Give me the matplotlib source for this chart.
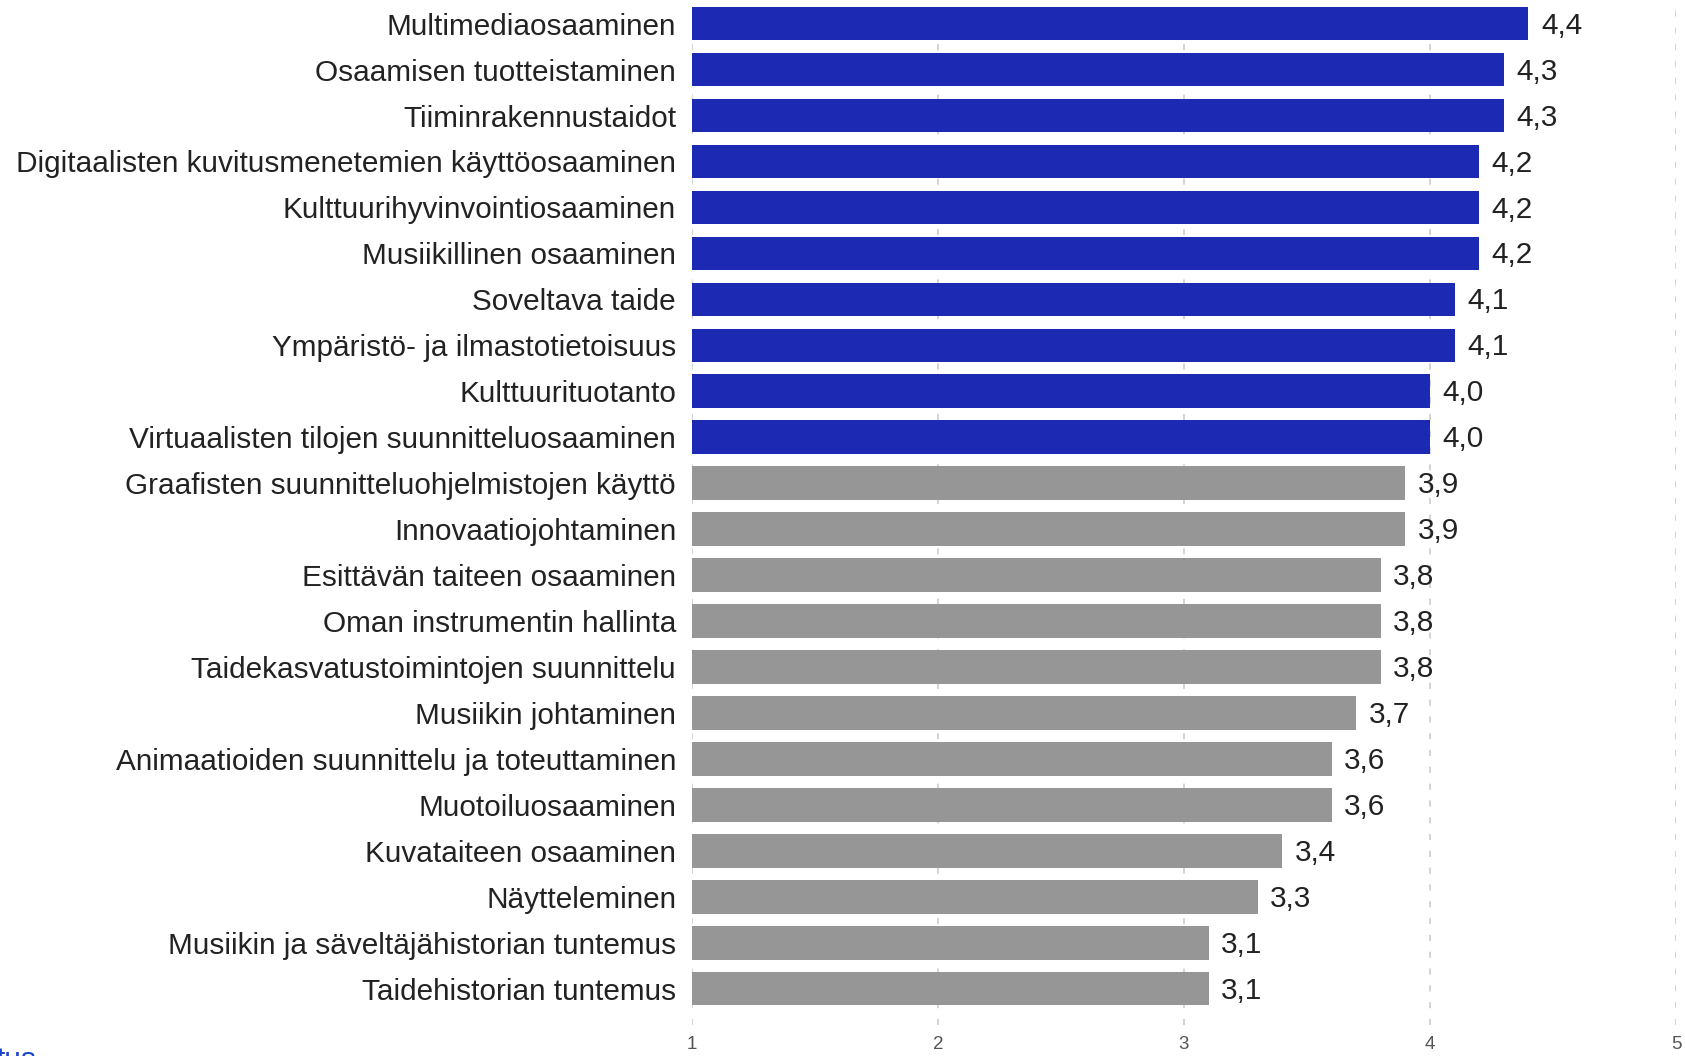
import numpy as np
import matplotlib.pyplot as plt

plt.rcParams['font.family'] = ['Liberation Sans', 'DejaVu Sans']

labels = [
    'Multimediaosaaminen',
    'Osaamisen tuotteistaminen',
    'Tiiminrakennustaidot',
    'Digitaalisten kuvitusmenetemien käyttöosaaminen',
    'Kulttuurihyvinvointiosaaminen',
    'Musiikillinen osaaminen',
    'Soveltava taide',
    'Ympäristö- ja ilmastotietoisuus',
    'Kulttuurituotanto',
    'Virtuaalisten tilojen suunnitteluosaaminen',
    'Graafisten suunnitteluohjelmistojen käyttö',
    'Innovaatiojohtaminen',
    'Esittävän taiteen osaaminen',
    'Oman instrumentin hallinta',
    'Taidekasvatustoimintojen suunnittelu',
    'Musiikin johtaminen',
    'Animaatioiden suunnittelu ja toteuttaminen',
    'Muotoiluosaaminen',
    'Kuvataiteen osaaminen',
    'Näytteleminen',
    'Musiikin ja säveltäjähistorian tuntemus',
    'Taidehistorian tuntemus',
]
values = [4.4, 4.3, 4.3, 4.2, 4.2, 4.2, 4.1, 4.1, 4.0, 4.0,
          3.9, 3.9, 3.8, 3.8, 3.8, 3.7, 3.6, 3.6, 3.4, 3.3, 3.1, 3.1]
n_top = 10  # top ten drawn in blue
x_ticks = [1, 2, 3, 4, 5]

BLUE = '#1c29b3'
GREY = '#969696'
TEXT = '#222222'
FS = 21.4

fig = plt.figure(figsize=(16.85, 10.56), dpi=100)
ax = fig.add_axes([692 / 1685, 1 - 1025 / 1056, (1676 - 692) / 1685, 1025 / 1056])

y = np.arange(len(labels))
colors = [BLUE if i < n_top else GREY for i in range(len(labels))]
ax.barh(y, values, height=0.73, color=colors, zorder=2)

for yi, v in zip(y, values):
    ax.annotate(f'{v:.1f}'.replace('.', ','), (v, yi), xytext=(9, -1.5),
                textcoords='offset points', va='center', ha='left',
                fontsize=FS, color=TEXT)

ax.set_xlim(1, 5)
ax.set_ylim(21.79, -0.514)
ax.set_yticks(y)
ax.set_yticklabels(labels, fontsize=FS, color=TEXT)
ax.set_xticks(x_ticks)
ax.set_xticklabels([str(t) for t in x_ticks], fontsize=13.5, color='#555555')
ax.tick_params(axis='both', length=0)
ax.tick_params(axis='y', pad=11.5)
ax.tick_params(axis='x', pad=8)
ax.grid(axis='x', color='#c8c8c8', linestyle=(0, (4, 7)), linewidth=1.1, zorder=0)
ax.set_axisbelow(True)
for s in ax.spines.values():
    s.set_visible(False)

# cut-off link text in the lower left corner
fig.text(-0.002, -0.0114, 'tus', color='#1a44cc', fontsize=FS, va='baseline', ha='left')

fig.savefig('out.png', dpi=100)
